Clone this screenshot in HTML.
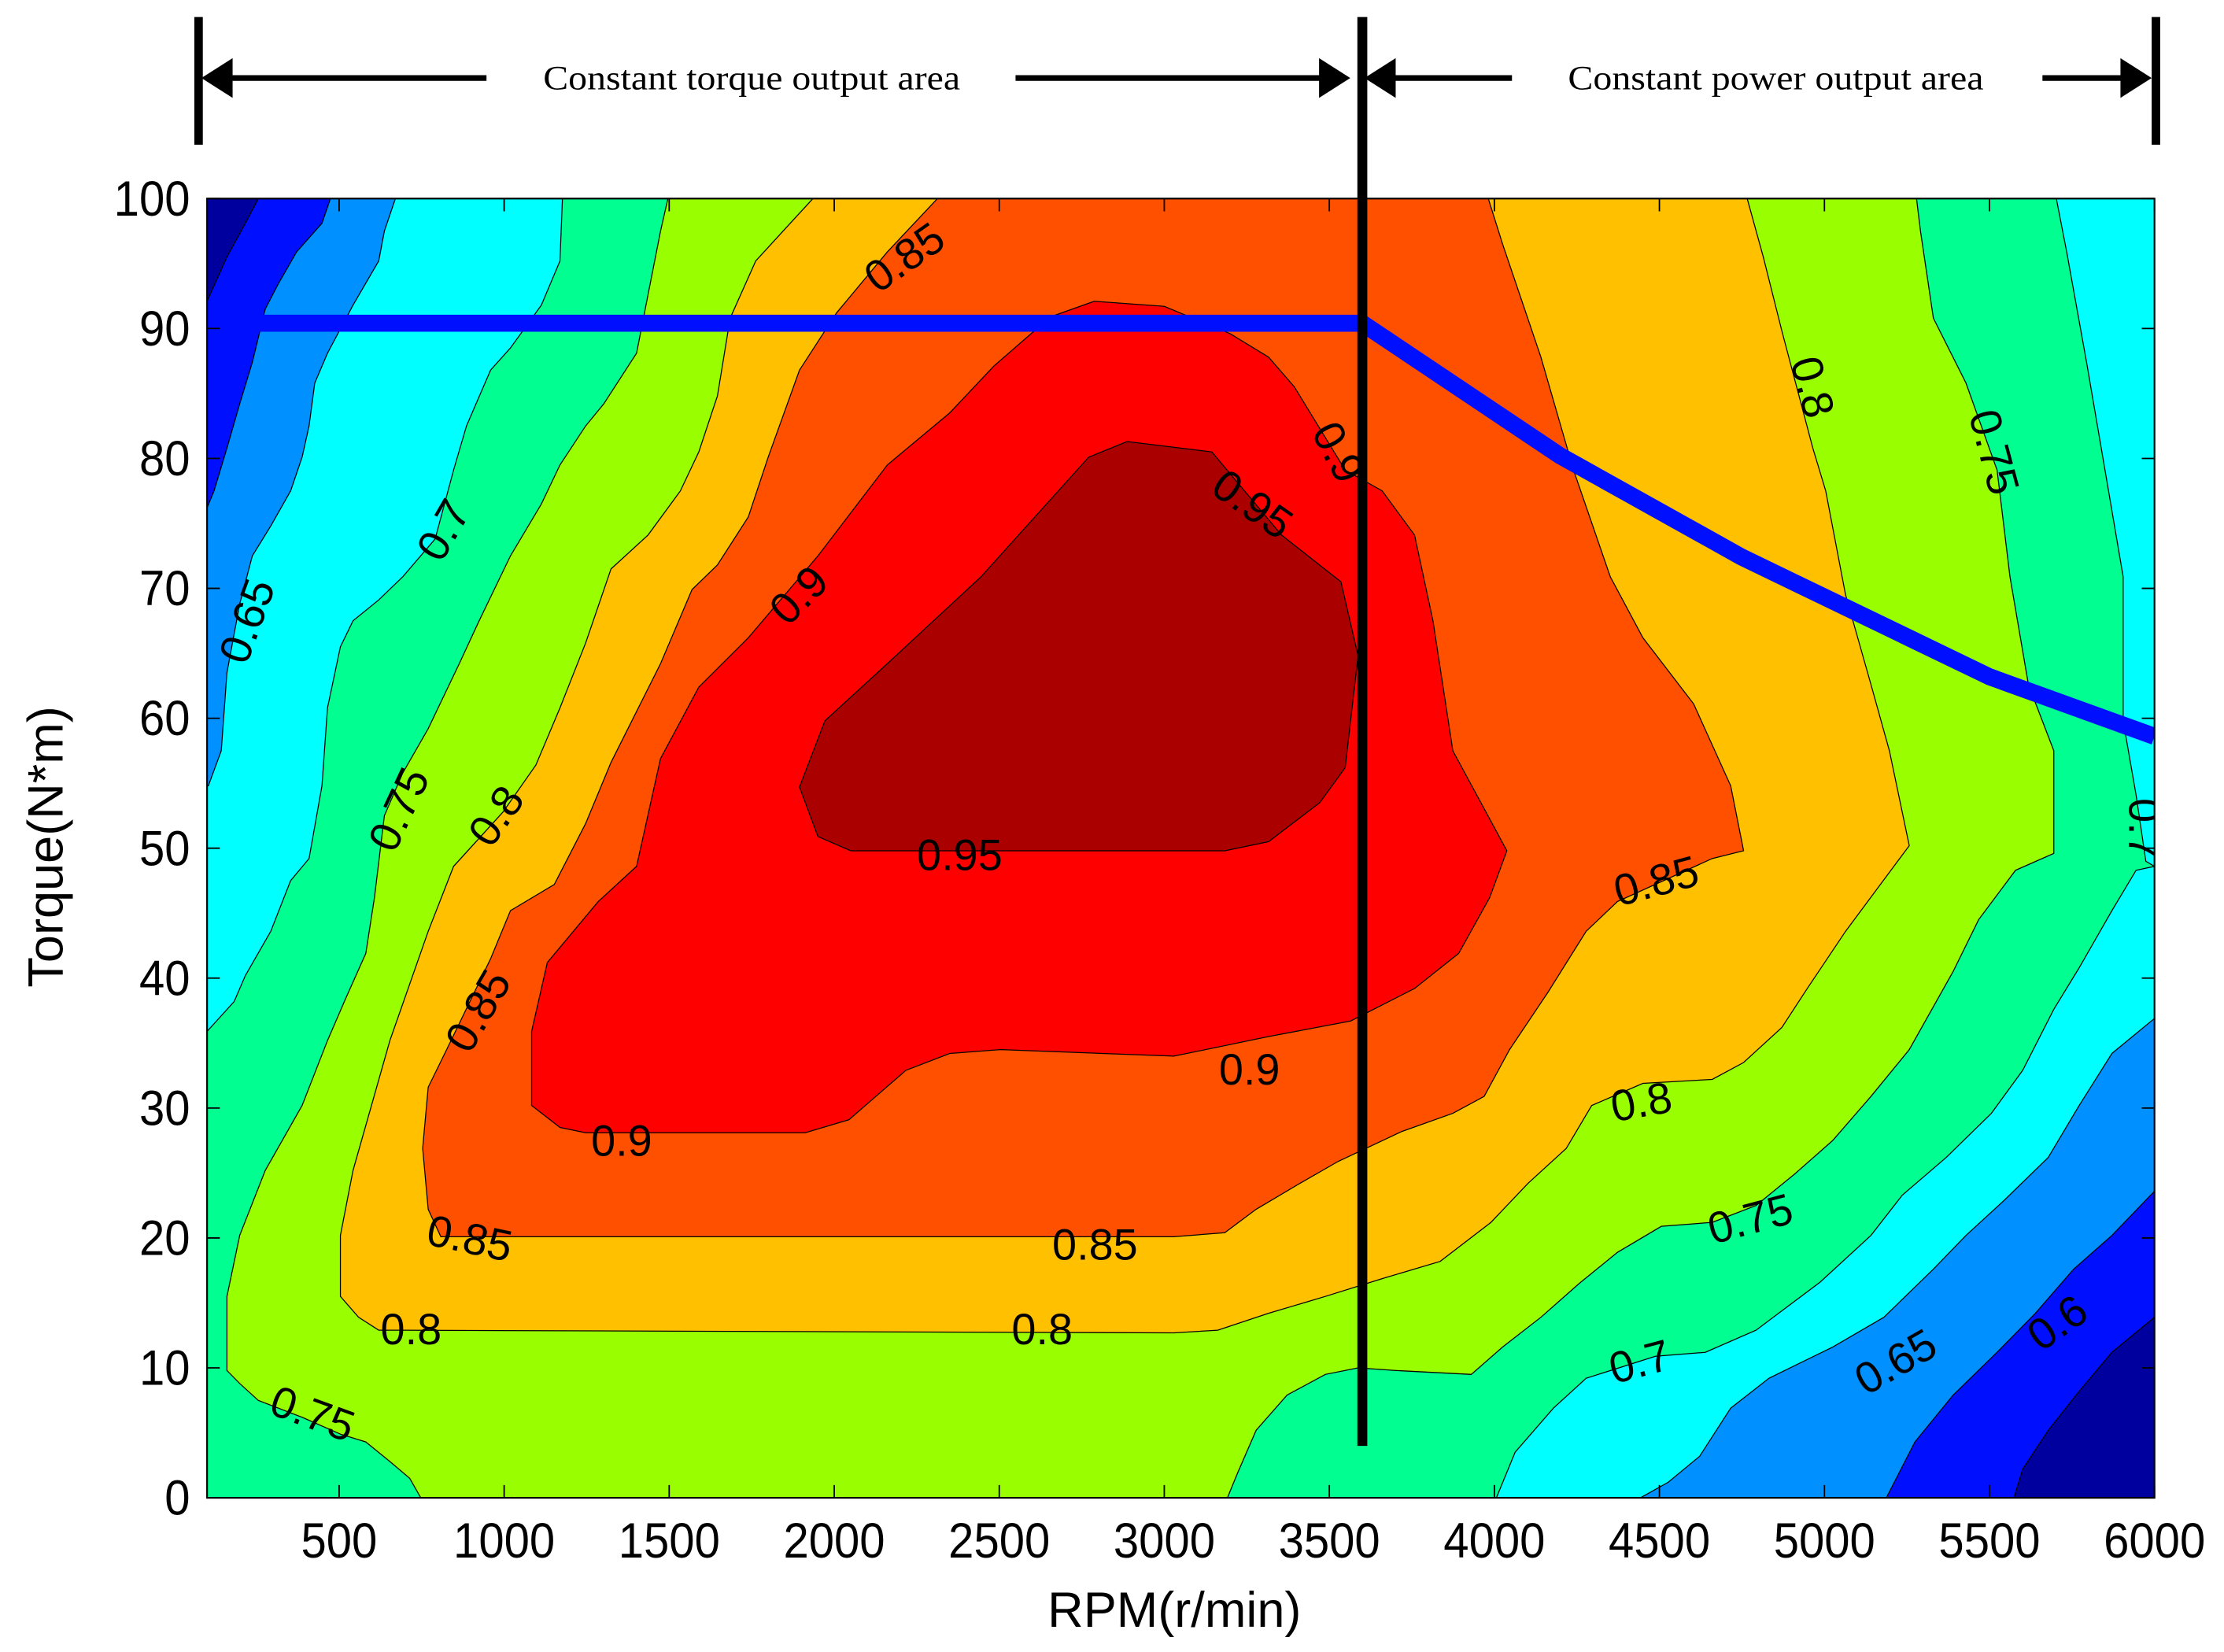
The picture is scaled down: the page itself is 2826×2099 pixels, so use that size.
<!DOCTYPE html>
<html><head><meta charset="utf-8"><style>
html,body{margin:0;padding:0;background:#fff;}
svg{display:block;}
</style></head><body>
<svg id="chart" xmlns="http://www.w3.org/2000/svg" width="2826" height="2099" viewBox="0 0 1568 1164.7" preserveAspectRatio="none">
<defs><clipPath id="plotclip"><rect x="146" y="140" width="1373" height="916"/></clipPath></defs>
<g id="contours" clip-path="url(#plotclip)"></g>
<g id="overlay"></g>
</svg>
<script>
// ---- data (rpm, torque) ----
const xTicks = [500,1000,1500,2000,2500,3000,3500,4000,4500,5000,5500,6000];
const yTicks = [0,10,20,30,40,50,60,70,80,90,100];
const lvl75 = [[1496,100],[1474,97.5],[1435,92.5],[1401,88.1],[1302,84.2],[1247,82.5],[1169,79.5],[1113,76.5],[1019,72.5],[924,67.5],[864,64.2],[770,59.2],[693,55.8],[637,52.5],[607,46.2],[581,41.9],[521,38.5],[465,35.2],[388,30.2],[276,25.2],[199,20.2],[160,15.5],[160,9.8],[199,8.8],[255,7.5],[388,6.2],[504,4.9],[581,4.3],[654,2.8],[714,1.5],[770,-1],[3175,-1],[3222,1.9],[3278,5.2],[3372,7.9],[3488,9.5],[3587,10.0],[3698,9.8],[3930,9.5],[4025,11.6],[4141,13.9],[4257,16.5],[4373,18.9],[4506,20.9],[4660,21.2],[4793,22.5],[4909,24.9],[5025,27.5],[5141,30.9],[5257,34.5],[5390,40.5],[5467,44.5],[5579,48.3],[5695,49.6],[5695,57.5],[5618,62.6],[5562,70.9],[5523,79.1],[5429,85.8],[5330,90.8],[5291,97.5],[5274,101]];
const lvl80 = [[1972,101],[1856,97.8],[1762,95.2],[1685,90.8],[1646,84.8],[1590,80.5],[1534,77.5],[1436,74.1],[1324,71.5],[1247,65.8],[1169,60.8],[1096,56.4],[997,52.8],[847,48.6],[770,43.6],[654,35.2],[542,25.2],[504,20.2],[504,15.5],[559,13.9],[620,12.9],[3029,12.7],[3162,12.9],[3316,14.2],[3488,15.5],[3664,16.9],[3836,18.2],[3990,21.2],[4102,24.2],[4218,26.9],[4295,30.2],[4450,31.9],[4660,32.2],[4755,33.5],[4871,36.2],[4948,39.2],[5064,43.6],[5257,50.2],[5197,57.5],[5141,62.6],[5064,69.5],[5004,77.5],[4965,80.8],[4871,89.8],[4815,95.5],[4755,101]];
const lvl85 = [[2350,101],[2161,95.9],[2007,91.2],[1895,86.8],[1800,80.1],[1740,75.5],[1646,71.8],[1569,69.9],[1474,64.2],[1324,56.6],[1247,51.9],[1152,47.2],[1019,45.2],[959,41.5],[826,34.5],[770,31.6],[753,26.9],[770,22.2],[808,20.1],[3029,20.1],[3183,20.4],[3278,22.2],[3411,24.2],[3527,25.9],[3720,28.2],[3874,29.6],[3969,30.9],[4046,34.5],[4162,38.9],[4278,43.6],[4373,45.9],[4660,49.2],[4755,49.8],[4716,54.8],[4604,61.1],[4450,66.2],[4351,70.9],[4240,79.1],[4141,87.8],[4025,96.5],[3969,101]];
const lvl90 = [[2788,92.1],[3000,91.7],[3200,89.6],[3316,87.8],[3394,85.5],[3548,79.1],[3660,77.5],[3758,74.1],[3814,67.5],[3874,57.5],[4038,49.8],[3986,46.2],[3892,41.9],[3758,39.2],[3565,36.7],[3316,35.5],[3029,34.0],[2505,34.5],[2350,34.2],[2217,32.9],[2045,29.1],[1912,28.1],[1247,28.1],[1169,28.5],[1083,30.2],[1083,35.9],[1131,41.2],[1285,45.9],[1401,48.6],[1474,56.9],[1590,62.4],[1740,66.2],[1951,72.5],[2161,79.5],[2350,83.5],[2483,87.1],[2655,90.9]];
const lvl95 = [[1895,54.7],[1972,59.8],[2161,64.2],[2445,70.9],[2771,80.1],[2887,81.3],[3144,80.5],[3355,74.1],[3535,70.5],[3587,64.8],[3548,56.2],[3471,53.5],[3316,50.5],[3183,49.8],[2050,49.8],[1951,50.9]];
const lowL70 = [[0,101],[1178,101],[1169,95.2],[1113,91.8],[1019,88.5],[959,86.8],[886,82.5],[847,79.1],[791,73.8],[693,70.9],[620,69.1],[542,67.5],[504,65.5],[465,60.8],[448,54.8],[409,49.2],[353,47.5],[293,43.6],[216,40.2],[182,38.2],[100,35.9],[0,35.9]];
const lowL65 = [[0,101],[684,101],[637,97.5],[620,95.2],[542,91.8],[465,88.1],[426,85.8],[409,82.5],[388,80.1],[353,77.5],[293,74.8],[237,72.5],[199,68.8],[160,63.5],[143,57.5],[104,54.8],[0,54.8]];
const lowL60 = [[0,101],[487,101],[448,98.1],[371,95.9],[315,93.4],[276,91.5],[237,87.4],[199,84.2],[160,80.8],[121,77.5],[100,76.2],[0,76.2]];
const lowL55 = [[0,101],[276,101],[216,98.1],[160,95.5],[100,92.1],[0,92.1]];
const lowR70 = [[5695,101],[6100,101],[6100,-1],[3990,-1],[4063,3.5],[4179,6.9],[4278,9.2],[4488,10.9],[4639,11.2],[4793,12.9],[4987,16.6],[5141,20.2],[5236,23.3],[5369,26.2],[5506,29.6],[5601,32.9],[5695,37.6],[5772,40.8],[5871,45.2],[5944,48.3],[6000,48.6],[5974,49.0],[5944,54.1],[5905,59.8],[5905,70.9],[5850,79.1],[5794,87.4],[5734,95.9]];
const lowR65 = [[6100,36.9],[6000,36.9],[5871,34.2],[5772,30.2],[5678,26.2],[5545,22.9],[5429,20.2],[5330,17.6],[5180,13.9],[5025,11.6],[4832,9.2],[4716,6.9],[4622,3.2],[4527,1.2],[4372,-1],[6100,-1]];
const lowR60 = [[6100,23.6],[6000,23.6],[5871,20.2],[5755,17.6],[5639,14.2],[5523,11.2],[5390,7.9],[5274,4.3],[5167,-1],[6100,-1]];
const lowR55 = [[6100,13.9],[6000,13.9],[5871,11.2],[5772,8.2],[5678,5.2],[5601,2.2],[5562,-1],[6100,-1]];
const powerCurve = [[100,90.4],[3600,90.4],[4200,80.2],[4750,72.4],[5500,63.2],[6000,58.6]];
const labelText = ["0.85","0.7","0.65","0.9","0.95","0.9","0.8","0.75","0.75","0.8","0.85","0.95","0.9","0.9","0.85","0.8","0.75","0.7","0.65","0.6","0.85","0.85","0.8","0.8","0.75","0.7"];
const labelRpm  = [2212,815,220,1892,3268,3528,4965,5515,680,975,920,2380,1356,3258,4490,4445,4775,4440,5215,5705,896,2790,718,2630,420,5970];
const labelTq   = [95.5,74.5,67.5,69.5,76.5,80.5,85.5,80.5,53,52.5,37.5,49.5,27.5,33,47.5,30.5,21.5,10.5,10.5,13.5,20,19.5,13,13,6.5,51.5];
const labelRot  = [-35,-60,-70,-45,35,62,75,75,-65,-55,-60,0,0,0,-15,-10,-15,-15,-30,-35,12,0,0,0,20,90];

// ---- axes ----
const X0=146, X1=1519, Y0=1056, Y1=140;
function X(r){return X0+(r-100)*(X1-X0)/5900;}
function Y(t){return Y0-t*(Y0-Y1)/100;}
const NS='http://www.w3.org/2000/svg';
function mk(tag,attrs,parent){const e=document.createElementNS(NS,tag);for(const k in attrs)e.setAttribute(k,attrs[k]);parent.appendChild(e);return e;}
function pts(arr){return arr.map(p=>X(p[0]).toFixed(1)+','+Y(p[1]).toFixed(1)).join(' ');}
const cg=document.getElementById('contours');
const ov=document.getElementById('overlay');

const base=mk('rect',{x:X0,y:Y1,width:X1-X0,height:Y0-Y1,fill:'#00FF90'},cg);



const bands=[
 [lvl75,'#99FF00','band-0.75-0.80'],
 [lvl80,'#FFC000','band-0.80-0.85'],
 [lvl85,'#FF5000','band-0.85-0.90'],
 [lvl90,'#FF0000','band-0.90-0.95'],
 [lvl95,'#AA0000','band-above-0.95'],
 [lowL70,'#00FFFF','band-0.65-0.70-left'],
 [lowL65,'#0090FF','band-0.60-0.65-left'],
 [lowL60,'#0010FF','band-0.55-0.60-left'],
 [lowL55,'#00009F','band-below-0.55-left'],
 [lowR70,'#00FFFF','band-0.65-0.70-right'],
 [lowR65,'#0090FF','band-0.60-0.65-right'],
 [lowR60,'#0010FF','band-0.55-0.60-right'],
 [lowR55,'#00009F','band-below-0.55-right']
];
bands.forEach(b=>{
  const p=mk('polygon',{points:pts(b[0]),fill:b[1],stroke:'#000','stroke-width':0.7},cg);
  
  
});

// contour labels
labelText.forEach((t,i)=>{
  const x=X(labelRpm[i]), y=Y(labelTq[i]);
  const e=mk('text',{x:x,y:y,'font-family':'Liberation Sans, Arial, sans-serif','font-size':31,'text-anchor':'middle','dominant-baseline':'central',fill:'#000',transform:'rotate('+labelRot[i]+' '+x+' '+y+')'},cg);
  e.textContent=t;
  
  
});

// power/torque limit curve
const pc=mk('polyline',{points:pts(powerCurve),fill:'none',stroke:'#0010FF','stroke-width':12,'stroke-linejoin':'round'},cg);



// frame
const fr=mk('rect',{x:X0,y:Y1,width:X1-X0,height:Y0-Y1,fill:'none',stroke:'#000','stroke-width':1.2},ov);



// ticks & labels
xTicks.forEach(v=>{
  const x=X(v);
  mk('line',{x1:x,y1:Y0,x2:x,y2:Y0-9,stroke:'#000','stroke-width':1},ov);
  mk('line',{x1:x,y1:Y1,x2:x,y2:Y1+9,stroke:'#000','stroke-width':1},ov);
  const t=mk('text',{x:x,y:1098,'font-family':'Liberation Sans, Arial, sans-serif','font-size':35,'text-anchor':'middle',fill:'#000',transform:'translate('+x+',0) scale(0.92,1) translate('+(-x)+',0)'},ov);
  t.textContent=v;
  
  
});
yTicks.forEach(v=>{
  const y=Y(v);
  mk('line',{x1:X0,y1:y,x2:X0+9,y2:y,stroke:'#000','stroke-width':1},ov);
  mk('line',{x1:X1,y1:y,x2:X1-9,y2:y,stroke:'#000','stroke-width':1},ov);
  const t=mk('text',{x:134,y:y+12,'font-family':'Liberation Sans, Arial, sans-serif','font-size':35,'text-anchor':'end',fill:'#000',transform:'translate(134,0) scale(0.92,1) translate(-134,0)'},ov);
  t.textContent=v;
  
  
});
const xt=mk('text',{x:828,y:1147,'font-family':'Liberation Sans, Arial, sans-serif','font-size':35,'text-anchor':'middle',fill:'#000'},ov);
xt.textContent='RPM(r/min)';


const yt=mk('text',{x:0,y:0,'font-family':'Liberation Sans, Arial, sans-serif','font-size':35,'text-anchor':'middle',fill:'#000',transform:'translate(44,597) rotate(-90)'},ov);
yt.textContent='Torque(N*m)';



// base speed divider
const dv=mk('line',{x1:X(3600),y1:12,x2:X(3600),y2:Y(4),stroke:'#000','stroke-width':7},ov);


[X(100)-6,X(6000)+1].forEach((x,i)=>{
  const b=mk('line',{x1:x,y1:12,x2:x,y2:102,stroke:'#000','stroke-width':6},ov);
  
  
});
function arrow(x1,x2,name){
  const dir=Math.sign(x2-x1);
  const g=mk('g',{},ov);
  
  
  mk('line',{x1:x1,y1:55,x2:x2-dir*20,y2:55,stroke:'#000','stroke-width':4},g);
  mk('polygon',{points:x2+',55 '+(x2-dir*22)+',41 '+(x2-dir*22)+',69',fill:'#000'},g);
}
arrow(343,142,'torque-area-left-arrow');
arrow(716,952,'torque-area-right-arrow');
arrow(1066,962,'power-area-left-arrow');
arrow(1440,1517,'power-area-right-arrow');
const t1=mk('text',{x:530,y:63,'font-family':'Liberation Serif, Times New Roman, serif','font-size':24,'text-anchor':'middle',fill:'#000',textLength:294,lengthAdjust:'spacingAndGlyphs'},ov);
t1.textContent='Constant torque output area';


const t2=mk('text',{x:1252,y:63,'font-family':'Liberation Serif, Times New Roman, serif','font-size':24,'text-anchor':'middle',fill:'#000',textLength:293,lengthAdjust:'spacingAndGlyphs'},ov);
t2.textContent='Constant power output area';


</script>
</body></html>
